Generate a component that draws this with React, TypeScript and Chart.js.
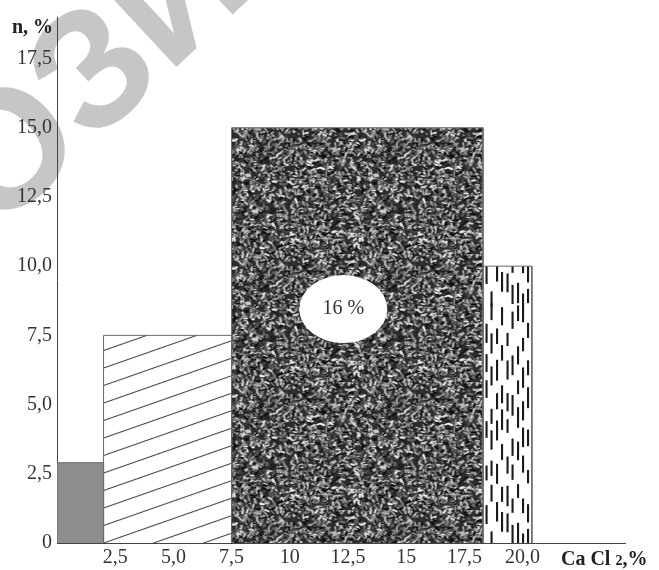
import { useEffect, useRef } from "react";
import { Chart, registerables } from "chart.js";

Chart.register(...registerables);

// ---- data ----
const binStarts = [0, 2, 7.5, 18.3];
const binEnds = [2, 7.5, 18.3, 20.4];
const binHeights = [2.9, 7.5, 15, 10];
const xTickValues = [2.5, 5, 7.5, 10, 12.5, 15, 17.5, 20];
const xTickLabels = ["2,5", "5,0", "7,5", "10", "12,5", "15", "17,5", "20,0"];
const yTickValues = [0, 2.5, 5, 7.5, 10, 12.5, 15, 17.5];
const yTickLabels = ["0", "2,5", "5,0", "7,5", "10,0", "12,5", "15,0", "17,5"];
const xTitleParts = ["Ca Cl ", "2", ",%"];
const yTitle = "n, %";
const insideLabel = "16 %";
const insideLabelAt = [12.3, 8.45];
const watermarkText = "ПОЗИТ";

const SERIF = "'Liberation Serif', 'Times New Roman', serif";

function mulberry32(seed: number) {
  let a = seed;
  return function () {
    a |= 0;
    a = (a + 0x6d2b79f5) | 0;
    let t = Math.imul(a ^ (a >>> 15), 1 | a);
    t = (t + Math.imul(t ^ (t >>> 7), 61 | t)) ^ t;
    return ((t ^ (t >>> 14)) >>> 0) / 4294967296;
  };
}

function makeNoiseTile(): HTMLCanvasElement {
  const S = 128;
  const c = document.createElement("canvas");
  c.width = S;
  c.height = S;
  const g = c.getContext("2d")!;
  g.fillStyle = "#2c2c2c";
  g.fillRect(0, 0, S, S);
  const rnd = mulberry32(11);
  const shades = ["#0c0c0c", "#1a1a1a", "#444444", "#5e5e5e", "#7a7a7a", "#969696", "#b8b8b8", "#d4d4d4", "#ececec"];
  g.lineCap = "round";
  for (let i = 0; i < 2600; i++) {
    const x = rnd() * S;
    const y = rnd() * S;
    const a = rnd() * Math.PI * 2;
    const l = 1.2 + rnd() * 3;
    g.strokeStyle = shades[Math.floor(rnd() * shades.length)];
    g.lineWidth = 0.9 + rnd() * 1.4;
    for (const dx of [-S, 0, S]) {
      for (const dy of [-S, 0, S]) {
        g.beginPath();
        g.moveTo(x + dx, y + dy);
        g.lineTo(x + dx + Math.cos(a) * l, y + dy + Math.sin(a) * l);
        g.stroke();
      }
    }
  }
  return c;
}

function makeHatchTile(): HTMLCanvasElement {
  const W = 50;
  const H = 17.5;
  const c = document.createElement("canvas");
  c.width = W;
  c.height = 35;
  const g = c.getContext("2d")!;
  g.strokeStyle = "#2e2e2e";
  g.lineWidth = 1;
  for (let k = -1; k <= 2; k++) {
    g.beginPath();
    g.moveTo(0, H * (k + 1));
    g.lineTo(W, H * k);
    g.stroke();
  }
  return c;
}

function makeDashTile(): HTMLCanvasElement {
  const W = 49;
  const H = 240;
  const c = document.createElement("canvas");
  c.width = W;
  c.height = H;
  const g = c.getContext("2d")!;
  g.fillStyle = "#1a1a1a";
  const rnd = mulberry32(5);
  const cols = [3.5, 8.5, 14, 19, 24.5, 29.5, 35, 40, 45];
  for (const cx of cols) {
    let y = rnd() * 30;
    while (y < H) {
      const len = 13 + rnd() * 8;
      for (const dy of [0, -H]) g.fillRect(cx - 1, y + dy, 2.1, len);
      y += len + 6 + rnd() * 24;
    }
  }
  return c;
}

export default function App() {
  const canvasRef = useRef<HTMLCanvasElement | null>(null);

  useEffect(() => {
    const canvas = canvasRef.current;
    if (!canvas) return;

    const noiseTile = makeNoiseTile();
    const hatchTile = makeHatchTile();
    const dashTile = makeDashTile();

    const anchoredPattern = (tile: HTMLCanvasElement, i: number) => (ctx: any) => {
      const ch = ctx.chart;
      const xs = ch.scales?.x;
      const ys = ch.scales?.y;
      const p = ch.ctx.createPattern(tile, "repeat");
      if (xs && ys && p) {
        p.setTransform(new DOMMatrix().translate(xs.getPixelForValue(binStarts[i]), ys.getPixelForValue(0)));
      }
      return p;
    };

    const fills: any[] = [
      "#8e8e8e",
      anchoredPattern(hatchTile, 1),
      anchoredPattern(noiseTile, 2),
      anchoredPattern(dashTile, 3),
    ];

    const datasets = binStarts.map((s, i) => ({
      label: "bin" + i,
      data: [
        { x: s, y: 0 },
        { x: s, y: binHeights[i] },
        { x: binEnds[i], y: binHeights[i] },
        { x: binEnds[i], y: 0 },
      ],
      borderColor: "#6a6a6a",
      borderWidth: 1,
      backgroundColor: fills[i],
      fill: "origin",
      pointRadius: 0,
      tension: 0,
    }));

    const decor = {
      id: "decor",
      beforeDraw(chart: any) {
        const g = chart.ctx;
        g.save();
        g.fillStyle = "#fff";
        g.fillRect(0, 0, chart.width, chart.height);
        // watermark
        g.translate(88, 86);
        g.rotate(-0.75);
        g.font = "bold 168px 'Liberation Sans', Arial, sans-serif";
        g.fillStyle = "#c6c6c6";
        g.textAlign = "center";
        g.textBaseline = "middle";
        g.fillText(watermarkText, 0, 0);
        g.restore();
      },
      afterDatasetsDraw(chart: any) {
        const g = chart.ctx;
        const xs = chart.scales.x;
        const ys = chart.scales.y;
        const cx = xs.getPixelForValue(insideLabelAt[0]);
        const cy = ys.getPixelForValue(insideLabelAt[1]);
        g.save();
        g.beginPath();
        g.ellipse(cx, cy, 44, 34, 0, 0, Math.PI * 2);
        g.fillStyle = "#ffffff";
        g.fill();
        g.font = `20px ${SERIF}`;
        g.fillStyle = "#333";
        g.textAlign = "center";
        g.textBaseline = "middle";
        g.fillText(insideLabel, cx, cy);
        g.restore();
      },
      afterDraw(chart: any) {
        const g = chart.ctx;
        const xs = chart.scales.x;
        const ys = chart.scales.y;
        g.save();
        g.fillStyle = "#222";
        g.textBaseline = "alphabetic";
        // x title
        let px = xs.getPixelForValue(21.65);
        const base = xs.top + 22;
        g.font = `bold 20px ${SERIF}`;
        g.textAlign = "left";
        g.fillText(xTitleParts[0], px, base);
        px += g.measureText(xTitleParts[0]).width;
        g.font = `bold 14px ${SERIF}`;
        g.fillText(xTitleParts[1], px, base);
        px += g.measureText(xTitleParts[1]).width;
        g.font = `bold 20px ${SERIF}`;
        g.fillText(xTitleParts[2], px, base);
        // y title
        g.textAlign = "right";
        g.textBaseline = "middle";
        g.fillText(yTitle, ys.right - 4, ys.getPixelForValue(18.6));
        g.restore();
      },
    };

    const chart = new Chart(canvas, {
      type: "line",
      data: { datasets: datasets as any },
      plugins: [decor],
      options: {
        animation: false,
        responsive: true,
        maintainAspectRatio: false,
        layout: { padding: { left: 0, right: 34, top: 15, bottom: 0 } },
        plugins: {
          legend: { display: false },
          tooltip: { enabled: false },
        },
        elements: { line: { borderJoinStyle: "miter" } },
        scales: {
          x: {
            type: "linear",
            min: 0,
            max: 24.4,
            grid: { display: false, drawTicks: false },
            border: { display: true, color: "#444", width: 1 },
            afterBuildTicks: (scale: any) => {
              scale.ticks = xTickValues.map((v) => ({ value: v }));
            },
            afterFit: (scale: any) => {
              scale.height = 27;
            },
            ticks: {
              autoSkip: false,
              maxRotation: 0,
              padding: 3,
              color: "#333",
              font: { family: SERIF, size: 20 },
              callback: (_v: any, i: number) => xTickLabels[i],
            },
          },
          y: {
            type: "linear",
            min: 0,
            max: 19,
            grid: { display: false, drawTicks: false },
            border: { display: true, color: "#444", width: 1 },
            afterBuildTicks: (scale: any) => {
              scale.ticks = yTickValues.map((v) => ({ value: v }));
            },
            afterFit: (scale: any) => {
              scale.width = 57;
            },
            ticks: {
              autoSkip: false,
              padding: 5,
              color: "#333",
              font: { family: SERIF, size: 20 },
              callback: (_v: any, i: number) => yTickLabels[i],
            },
          },
        },
      },
    });

    return () => {
      chart.destroy();
    };
  }, []);

  return (
    <div style={{ position: "fixed", left: 0, top: 0, width: 659, height: 570, background: "#fff" }}>
      <canvas ref={canvasRef} />
    </div>
  );
}
